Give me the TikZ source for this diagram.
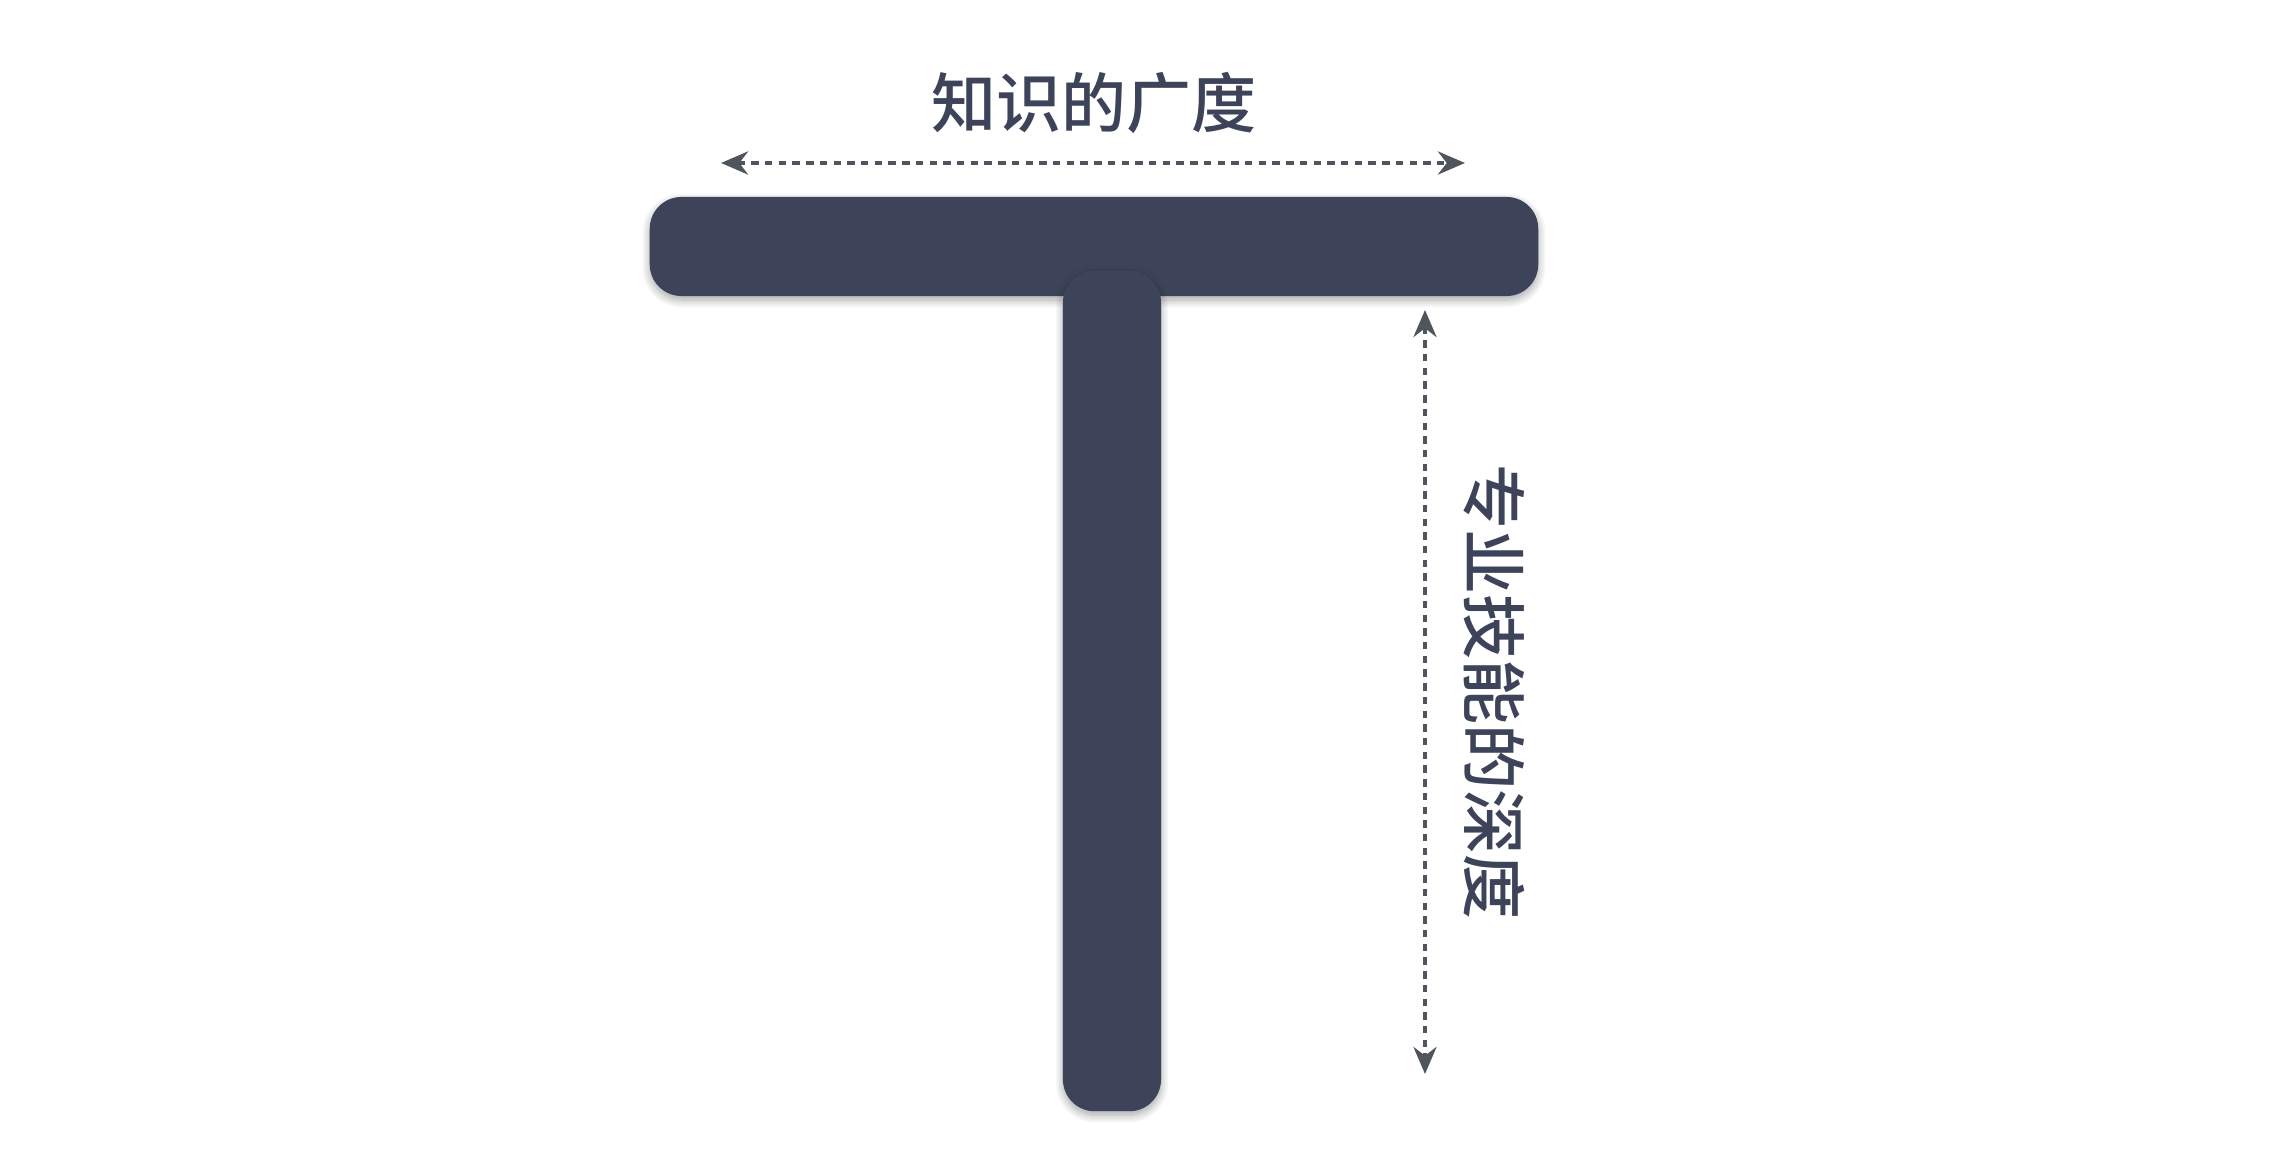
\documentclass[tikz,border=0pt]{standalone}
\usepackage{fontspec}
\newfontfamily\cjk{Noto Sans CJK SC Medium}
\usetikzlibrary{positioning,arrows.meta,shadows.blur}
\definecolor{barfill}{HTML}{3D4459}
\definecolor{labeltext}{HTML}{3D4459}
\definecolor{arrowgrey}{HTML}{50545C}

\begin{document}
\begin{tikzpicture}[
  x=0.01cm, y=-0.01cm,
  bar/.style={fill=barfill, draw=none, rounded corners=9pt, inner sep=0pt,
    blur shadow={shadow xshift=0pt, shadow yshift=-0.4mm, shadow blur radius=0.8mm,
      shadow blur steps=10, shadow opacity=35}},
  label/.style={font=\cjk\fontsize{18.5pt}{20pt}\selectfont, text=labeltext, inner sep=0pt},
  span/.style={{Stealth[length=2.7mm, width=2.3mm]}-{Stealth[length=2.7mm, width=2.3mm]},
    draw=arrowgrey, line width=1.25pt, dash pattern=on 2.1pt off 1.8pt}
]
  \useasboundingbox (0,0) rectangle (2284,1167);
  \node[bar, minimum width=8.88cm, minimum height=0.99cm] (hbar) at (1094,246.5) {};
  \node[bar, minimum width=0.98cm, minimum height=8.40cm] (vbar) at (1112,691) {};
  \coordinate (wl) at (721,163);
  \coordinate (wr) at (1465,163);
  \coordinate (dt) at (1425,310);
  \coordinate (db) at (1425,1074);
  \draw[span] (wl) -- (wr);
  \draw[span] (dt) -- (db);
  \node[label] (breadth) at (1094,103) {知识的广度};
  \node[label, rotate=-90] (depth) at (1494,692) {专业技能的深度};
\end{tikzpicture}
\end{document}
